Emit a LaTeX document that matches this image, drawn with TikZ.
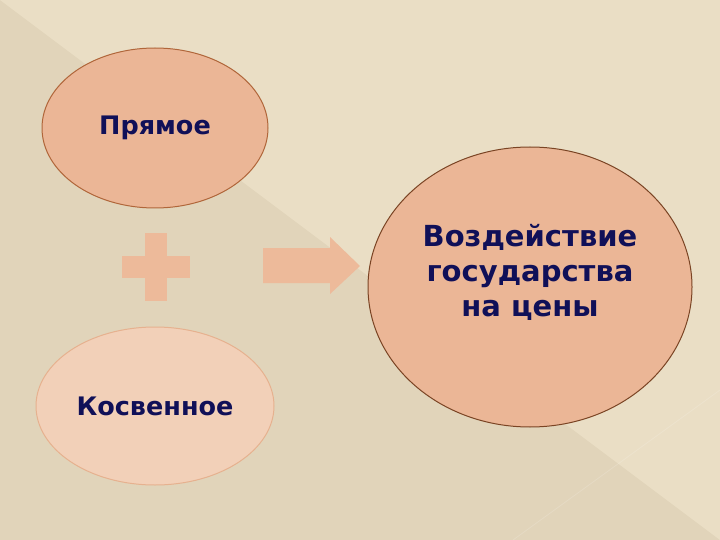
\documentclass[tikz,border=0pt]{standalone}
\usepackage{fontspec}
\setmainfont{DejaVu Sans}
\usetikzlibrary{shapes.geometric}
\definecolor{bgdark}{HTML}{E1D4BA}
\definecolor{bglight}{HTML}{EADEC5}
\definecolor{fillmain}{HTML}{EBB696}
\definecolor{filllight}{HTML}{F2D0B8}
\definecolor{edgemain}{HTML}{B0663A}
\definecolor{edgedark}{HTML}{7A4424}
\definecolor{edgelight}{HTML}{E6B18F}
\definecolor{shapefill}{HTML}{EDBA9A}
\definecolor{navy}{HTML}{101058}
\tikzset{
  oval/.style={ellipse, draw=edgemain, line width=1pt, fill=fillmain, inner sep=0pt},
  lbl/.style={font=\bfseries\fontsize{25.5}{30}\selectfont, text=navy},
  biglbl/.style={font=\bfseries\fontsize{29}{35}\selectfont, text=navy, align=center},
  deco/.style={fill=shapefill, draw=none}
}
\begin{document}
\begin{tikzpicture}[x=1pt, y=-1pt]
\useasboundingbox (0,0) rectangle (720,540);
% background
\fill[bgdark] (0,0) rectangle (720,540);
\fill[bglight] (0,0) -- (720,0) -- (720,540) -- cycle;
\draw[white, opacity=0.15, line width=0.8pt] (513,540) -- (720,390);
% ovals
\node[oval, minimum width=226pt, minimum height=160pt] (direct) at (155,128) {};
\node[lbl] at (direct.center) {Прямое};
\node[oval, fill=filllight, draw=edgelight, minimum width=238pt, minimum height=158pt] (indirect) at (155,406) {};
\node[lbl] at (indirect.center) {Косвенное};
\node[oval, draw=edgedark, minimum width=324pt, minimum height=280pt] (effect) at (530,287) {};
\node[biglbl] at ([yshift=15pt]effect.center) {Воздействие\\государства\\на цены};
% plus sign
\fill[deco] (122,256) rectangle (190,278);
\fill[deco] (145,233) rectangle (167,301);
% arrow
\fill[deco] (263,248) -- (330,248) -- (330,237) -- (360,266) -- (330,294) -- (330,283) -- (263,283) -- cycle;
\end{tikzpicture}
\end{document}
